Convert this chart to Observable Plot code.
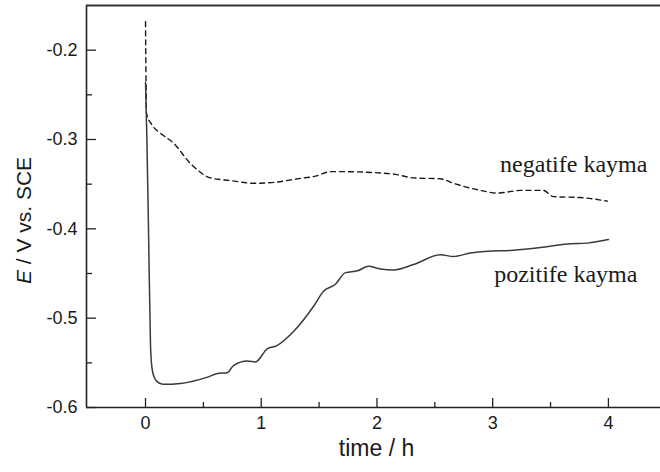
<!DOCTYPE html>
<html>
<head>
<meta charset="utf-8">
<script src="https://cdn.jsdelivr.net/npm/d3@7"></script>
<script src="https://cdn.jsdelivr.net/npm/@observablehq/plot@0.6"></script>
<style>
  html, body { margin: 0; padding: 0; background: #fff; }
</style>
</head>
<body>
<div id="chart"></div>
<script>
// ---- data ----
const negTime = [0, 0.009, 0.058, 0.130, 0.242, 0.389, 0.562, 0.734, 0.933, 1.106, 1.313, 1.470, 1.598, 1.685, 1.970, 2.160, 2.315, 2.549, 2.661, 2.894, 3.041, 3.240, 3.438, 3.525, 3.758, 3.991];
const negE    = [-0.168, -0.271, -0.284, -0.293, -0.304, -0.327, -0.343, -0.346, -0.349, -0.348, -0.344, -0.341, -0.336, -0.336, -0.337, -0.339, -0.343, -0.344, -0.349, -0.357, -0.360, -0.357, -0.357, -0.364, -0.365, -0.369];

const posTime = [0, 0.012, 0.026, 0.043, 0.056, 0.075, 0.100, 0.150, 0.302, 0.536, 0.622, 0.708, 0.760, 0.881, 0.950, 1.054, 1.132, 1.279, 1.451, 1.538, 1.641, 1.728, 1.832, 1.927, 2.030, 2.143, 2.315, 2.549, 2.661, 2.808, 2.955, 3.179, 3.413, 3.646, 3.819, 4.000];
const posE    = [-0.236, -0.300, -0.402, -0.530, -0.556, -0.566, -0.571, -0.574, -0.573, -0.566, -0.562, -0.561, -0.553, -0.548, -0.549, -0.534, -0.531, -0.515, -0.487, -0.470, -0.462, -0.449, -0.447, -0.442, -0.445, -0.446, -0.440, -0.429, -0.431, -0.427, -0.425, -0.424, -0.421, -0.417, -0.416, -0.412];

const seriesNames = ["negatife kayma", "pozitife kayma"];
const xDomain = [-0.51, 4.45];
const yDomain = [-0.6, -0.15];
const xTicks = [0, 1, 2, 3, 4];
const xMinorTicks = [0.5, 1.5, 2.5, 3.5];
const yTicks = [-0.6, -0.5, -0.4, -0.3, -0.2];
const yMinorTicks = [-0.55, -0.45, -0.35, -0.25];
const xLabel = "time / h";
const yLabel = "E / V vs. SCE";

// ---- tables built from the arrays ----
const neg = negTime.map((t, i) => ({t, e: negE[i], name: seriesNames[0]}));
const pos = posTime.map((t, i) => ({t, e: posE[i], name: seriesNames[1]}));

const W = 660, H = 472, ML = 86, MR = 0, MT = 5, MB = 65;
const plotW = W - ML - MR, plotH = H - MT - MB;
const serif = "'Liberation Serif', 'Times New Roman', serif";

const chart = Plot.plot({
  width: W, height: H,
  marginLeft: ML, marginRight: MR, marginTop: MT, marginBottom: MB,
  style: {fontFamily: "'Liberation Sans', Arial, sans-serif", background: "#fff", color: "#1a1a1a"},
  x: {domain: xDomain, axis: null},
  y: {domain: yDomain, axis: null},
  marks: [
    // frame lines: left, bottom, top
    Plot.ruleX([xDomain[0]], {stroke: "#222", strokeWidth: 1.6}),
    Plot.ruleY([yDomain[0]], {stroke: "#222", strokeWidth: 1.6}),
    Plot.ruleY([yDomain[1]], {stroke: "#333", strokeWidth: 2}),
    // inward ticks
    Plot.tickX(xTicks, {x: d => d, insetTop: plotH - 9, stroke: "#222", strokeWidth: 1.3}),
    Plot.tickX(xMinorTicks, {x: d => d, insetTop: plotH - 5, stroke: "#222", strokeWidth: 1.3}),
    Plot.tickY(yTicks, {y: d => d, insetRight: plotW - 10, stroke: "#222", strokeWidth: 1.3}),
    Plot.tickY(yMinorTicks, {y: d => d, insetRight: plotW - 6, stroke: "#222", strokeWidth: 1.3}),
    // tick labels
    Plot.axisX({ticks: xTicks, tickSize: 0, tickPadding: 9, fontSize: 18, label: null, tickFormat: d => String(d)}),
    Plot.axisY({ticks: yTicks, tickSize: 0, tickPadding: 9, fontSize: 18, label: null, tickFormat: d => String(d)}),
    // axis titles
    Plot.text([xLabel], {text: d => d, frameAnchor: "bottom", textAnchor: "middle", dx: 3, dy: 48, fontSize: 23, fill: "#1a1a1a"}),
    Plot.text([yLabel], {text: d => d, frameAnchor: "left", textAnchor: "middle", rotate: -90, dx: -62, dy: 14, fontSize: 21, fill: "#1a1a1a"}),
    // curves
    Plot.line(neg, {x: "t", y: "e", curve: "monotone-x", stroke: "#1a1a1a", strokeWidth: 1.4, strokeDasharray: "5,4"}),
    Plot.line(pos, {x: "t", y: "e", curve: "monotone-x", stroke: "#3a3a3a", strokeWidth: 1.5}),
    // series labels, placed relative to each series' last point
    Plot.text(neg, Plot.selectLast({x: "t", y: "e", text: "name", textAnchor: "end", dx: 40, dy: -37,
      fontSize: 24, fontFamily: serif, fill: "#1a1a1a"})),
    Plot.text(pos, Plot.selectLast({x: "t", y: "e", text: "name", textAnchor: "end", dx: 29, dy: 35,
      fontSize: 24, fontFamily: serif, fill: "#1a1a1a"}))
  ]
});

// italic E in the y-axis title
d3.select(chart).selectAll("text").filter(function() { return this.textContent === yLabel; })
  .each(function() {
    const t = d3.select(this);
    t.text(null);
    t.append("tspan").attr("font-style", "italic").text("E");
    t.append("tspan").text(yLabel.slice(1));
  });

document.getElementById("chart").appendChild(chart);
</script>
</body>
</html>
